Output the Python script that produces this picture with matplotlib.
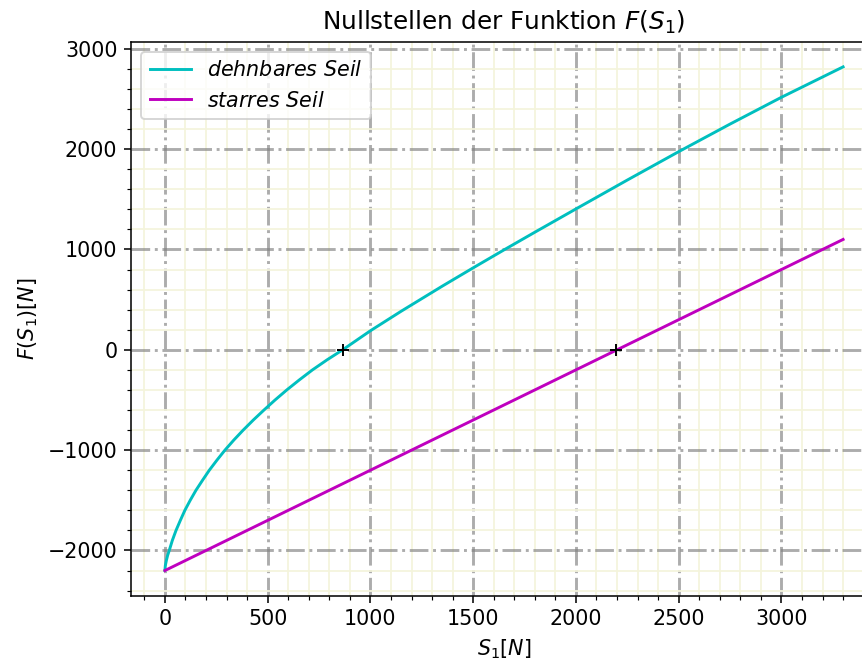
import matplotlib
matplotlib.use('Agg')
import matplotlib.pyplot as plt
from matplotlib.ticker import AutoMinorLocator

plt.rcParams['font.size'] = 10.6

# Werte
s1_dehnbar = [0, 2, 7, 13, 21, 36, 54, 75, 97, 123, 151, 183, 216, 253, 292,
              335, 381, 430, 482, 536, 593, 654, 718, 789, 865,
              1000, 1150, 1350, 1500, 1650, 1800, 2000, 2250, 2500, 2750, 3000, 3300]
f_dehnbar = [-2200, -2150, -2100, -2050, -2000, -1900, -1800, -1700, -1600, -1500, -1400, -1300, -1200, -1100, -1000,
             -900, -800, -700, -600, -500, -400, -300, -200, -100, 0,
             190, 385, 635, 817, 996, 1172, 1404, 1692, 1975, 2250, 2517, 2820]

s1_starr = [0, 3300]
f_starr = [-2200, 1100]

# Nullstellen
nullstellen_s1 = [865, 2195]
nullstellen_f = [0, 0]

fig = plt.figure(figsize=(862 / 140, 665 / 140), dpi=140)
ax = fig.add_axes([0.152, 0.1042, 0.8654, 0.8331])

ax.plot(s1_dehnbar, f_dehnbar, color='c', lw=1.5, label=r'$dehnbares\ Seil$')
ax.plot(s1_starr, f_starr, color='m', lw=1.5, label=r'$starres\ Seil$')
ax.plot(nullstellen_s1, nullstellen_f, 'k+', zorder=5)

ax.xaxis.set_minor_locator(AutoMinorLocator(5))
ax.yaxis.set_minor_locator(AutoMinorLocator(5))
ax.grid(which='minor', color='#f4f4dc', lw=0.9, linestyle='-')
ax.grid(which='major', color='gray', alpha=0.65, lw=1.5, linestyle='-.')
ax.set_axisbelow(True)

ax.set_title(r'Nullstellen der Funktion $F(S_1)$')
ax.set_xlabel(r'$S_1 [N]$')
ax.set_ylabel(r'$F(S_1) [N]$')
ax.legend(loc='upper left')

fig.savefig('out.png', dpi=140)
